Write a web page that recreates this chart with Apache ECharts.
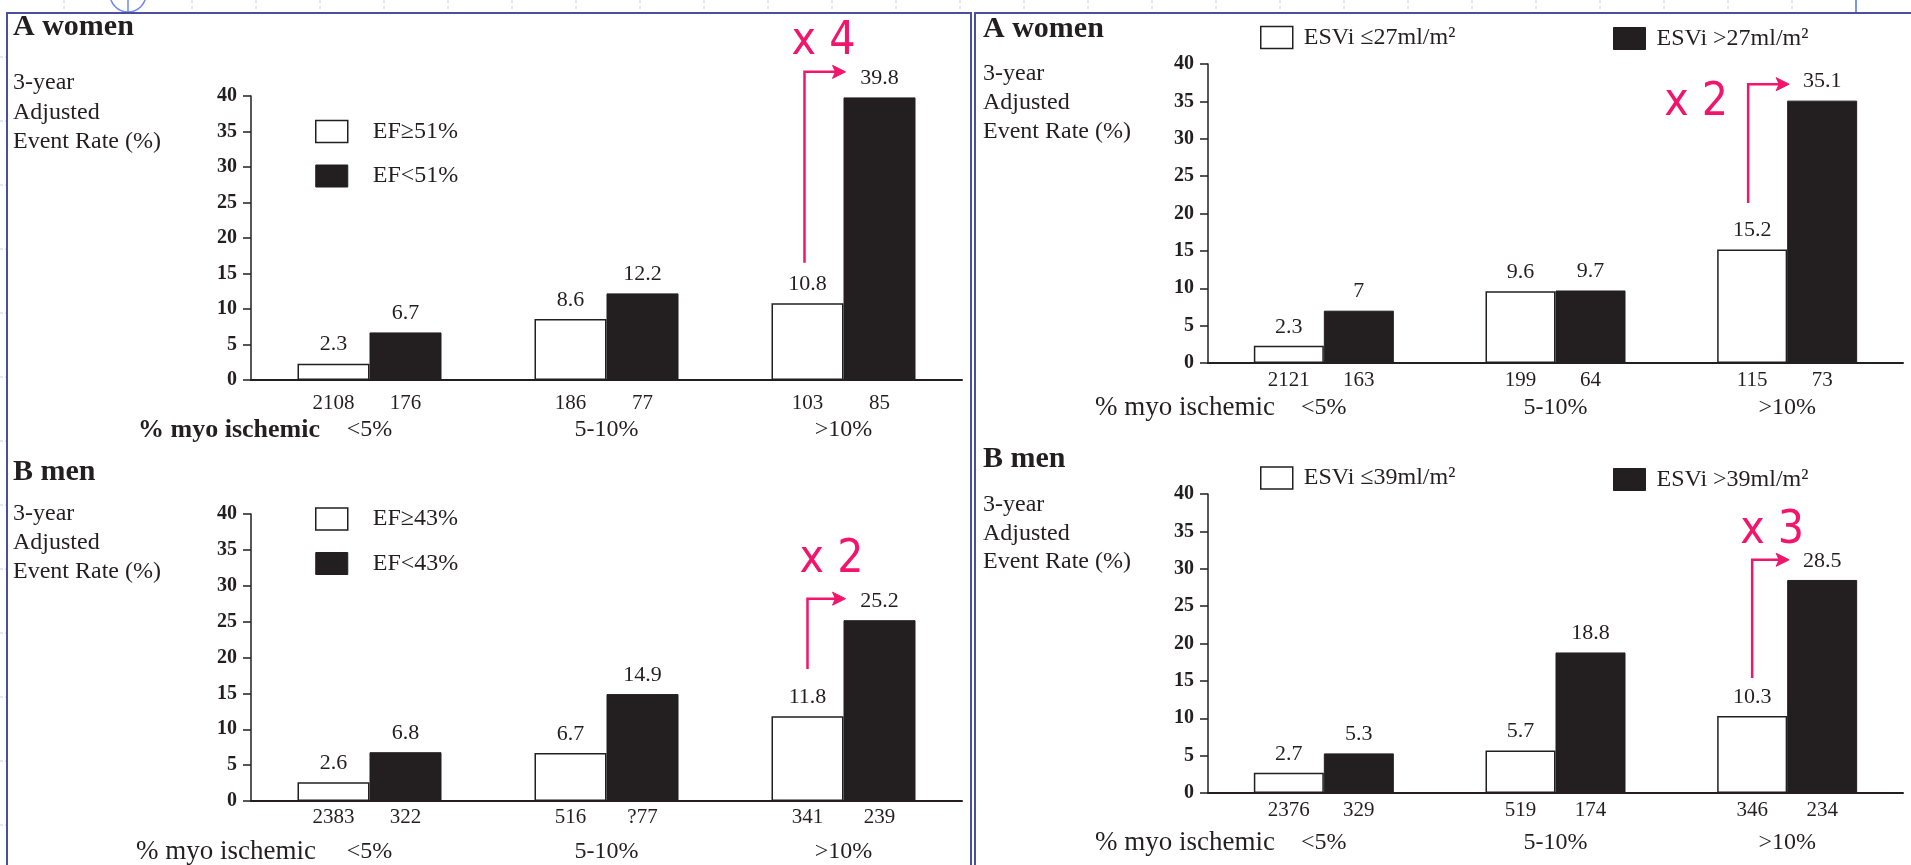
<!DOCTYPE html>
<html><head><meta charset="utf-8">
<script src="https://cdn.jsdelivr.net/npm/echarts@6/dist/echarts.min.js"></script>
<style>html,body{margin:0;padding:0;background:#fff}#c{width:1911px;height:865px}</style>
</head><body><div id="c"></div>
<script>
// ---------------- data ----------------
const categories = ['<5%', '5-10%', '>10%'];
const yTitleLines = ['3-year', 'Adjusted', 'Event Rate (%)'];
const xTitle = '% myo ischemic';

// A women — ejection fraction
const womenEFNames = ['EF≥51%', 'EF<51%'];
const womenEFHigh = [2.3, 8.6, 10.8];
const womenEFLow = [6.7, 12.2, 39.8];
const womenEFCountHigh = ['2108', '186', '103'];
const womenEFCountLow = ['176', '77', '85'];

// B men — ejection fraction
const menEFNames = ['EF≥43%', 'EF<43%'];
const menEFHigh = [2.6, 6.7, 11.8];
const menEFLow = [6.8, 14.9, 25.2];
const menEFCountHigh = ['2383', '516', '341'];
const menEFCountLow = ['322', '?77', '239'];

// A women — ESVi
const womenESViNames = ['ESVi ≤27ml/m²', 'ESVi >27ml/m²'];
const womenESViLow = [2.3, 9.6, 15.2];
const womenESViHigh = [7, 9.7, 35.1];
const womenESViCountLow = ['2121', '199', '115'];
const womenESViCountHigh = ['163', '64', '73'];

// B men — ESVi
const menESViNames = ['ESVi ≤39ml/m²', 'ESVi >39ml/m²'];
const menESViLow = [2.7, 5.7, 10.3];
const menESViHigh = [5.3, 18.8, 28.5];
const menESViCountLow = ['2376', '519', '346'];
const menESViCountHigh = ['329', '174', '234'];

const yMin = 0, yMax = 40, yInterval = 5;
const ratioTexts = ['x 4', 'x 2', 'x 2', 'x 3'];

// ---------------- layout / style ----------------
const FONT = '"Liberation Serif", "Times New Roman", serif';
const INK = '#231f20';
const PINK = '#f2156b';
const FRAME = '#4a4fa0';

const panels = [
  { title: 'A women', names: womenEFNames, white: womenEFHigh, black: womenEFLow, nW: womenEFCountHigh, nB: womenEFCountLow,
    grid: { left: 251, top: 96, width: 711, height: 284 }, barWidth: 72,
    titlePos: [13, 27], yTitle: [13, 83, 29.5], xTitlePos: [138, 430], xTitleBold: true,
    labelMargin: 11, catLH: 30,
    legends: [{ left: 315, top: 119.5, orient: 'vertical', idx: [0, 1], pad: 20 }],
    arrow: { from: 16.5, to: 43.4, dx: -3, tdx: 19, tdy: -29.5 } },
  { title: 'A women', names: womenESViNames, white: womenESViLow, black: womenESViHigh, nW: womenESViCountLow, nB: womenESViCountHigh,
    grid: { left: 1208, top: 64, width: 695, height: 299 }, barWidth: 70,
    titlePos: [983, 29], yTitle: [983, 73.5, 29], xTitlePos: [1095, 408], xTitleBold: false,
    labelMargin: 5, catLH: 32,
    legends: [{ left: 1260, top: 25.5, orient: 'horizontal', idx: [0], pad: 6 },
              { left: 1613, top: 26.5, orient: 'horizontal', idx: [1], pad: 6 }],
    arrow: { from: 21.4, to: 37.3, dx: -4, tdx: -52, tdy: 18.5 } },
  { title: 'B men', names: menEFNames, white: menEFHigh, black: menEFLow, nW: menEFCountHigh, nB: menEFCountLow,
    grid: { left: 251, top: 514, width: 711, height: 287 }, barWidth: 72,
    titlePos: [13, 472.5], yTitle: [13, 513.5, 29.25], xTitlePos: [136, 852], xTitleBold: false,
    labelMargin: 4, catLH: 46,
    legends: [{ left: 315, top: 507, orient: 'vertical', idx: [0, 1], pad: 20 }],
    arrow: { from: 18.4, to: 28.2, dx: 0, tdx: 24, tdy: -38.5 } },
  { title: 'B men', names: menESViNames, white: menESViLow, black: menESViHigh, nW: menESViCountLow, nB: menESViCountHigh,
    grid: { left: 1208, top: 494, width: 695, height: 299 }, barWidth: 70,
    titlePos: [983, 459], yTitle: [983, 505, 28.25], xTitlePos: [1095, 843], xTitleBold: false,
    labelMargin: 5, catLH: 42,
    legends: [{ left: 1260, top: 466, orient: 'horizontal', idx: [0], pad: 6 },
              { left: 1613, top: 467.5, orient: 'horizontal', idx: [1], pad: 6 }],
    arrow: { from: 15.4, to: 31.2, dx: 0, tdx: 20, tdy: -28.5 } }
];

const whiteStyle = { color: '#ffffff', borderColor: INK, borderWidth: 1.5 };
const blackStyle = { color: INK, borderColor: INK, borderWidth: 1 };

const chart = echarts.init(document.getElementById('c'), null, { renderer: 'canvas', width: 1911, height: 865 });

const grids = [], xAxes = [], yAxes = [], series = [], legends = [];
panels.forEach((p, i) => {
  grids.push(Object.assign({ containLabel: false }, p.grid));
  xAxes.push({
    type: 'category', gridIndex: i, data: categories,
    axisTick: { show: false },
    axisLine: { lineStyle: { color: INK, width: 2 } },
    axisLabel: {
      interval: 0, margin: p.labelMargin, color: INK, fontFamily: FONT,
      formatter: (v, idx) => '{n|' + p.nW[idx] + '}{n|' + p.nB[idx] + '}\n{c|' + v + '}',
      rich: {
        n: { width: p.barWidth, align: 'center', fontSize: 21, lineHeight: 24, fontFamily: FONT, color: INK },
        c: { fontSize: 24, lineHeight: p.catLH, fontFamily: FONT, color: INK }
      }
    }
  });
  yAxes.push({
    type: 'value', gridIndex: i, min: yMin, max: yMax, interval: yInterval,
    splitLine: { show: false },
    axisLine: { show: true, lineStyle: { color: INK, width: 1.5 } },
    axisTick: { show: true, length: 8, lineStyle: { color: INK, width: 1.5 } },
    axisLabel: { margin: 14, fontFamily: FONT, fontWeight: 'bold', fontSize: 20, color: INK }
  });
  const lbl = { show: true, position: 'top', distance: 8, fontFamily: FONT, fontSize: 22, color: INK };
  series.push({ type: 'bar', name: p.names[0], xAxisIndex: i, yAxisIndex: i, data: p.white,
    barWidth: p.barWidth, barGap: '0%', itemStyle: whiteStyle, label: lbl, emphasis: { disabled: true } });
  series.push({ type: 'bar', name: p.names[1], xAxisIndex: i, yAxisIndex: i, data: p.black,
    barWidth: p.barWidth, barGap: '0%', itemStyle: blackStyle, label: lbl, emphasis: { disabled: true } });
  p.legends.forEach(l => {
    legends.push({
      orient: l.orient, left: l.left, top: l.top, padding: 0,
      itemWidth: 32, itemHeight: 22, itemGap: 20.5, selectedMode: false, icon: 'rect',
      data: l.idx.map(k => ({ name: p.names[k], itemStyle: k === 0 ? whiteStyle : blackStyle })),
      textStyle: { fontFamily: FONT, fontSize: 24, lineHeight: 22, color: INK, padding: [0, 0, 0, l.pad] }
    });
  });
});

chart.setOption({
  animation: false,
  backgroundColor: '#ffffff',
  grid: grids, xAxis: xAxes, yAxis: yAxes, series: series, legend: legends
});

// ---------------- graphics (frames, texts, annotations) ----------------
const g = [];
function txt(x, y, text, size, bold, fill, family) {
  return { type: 'text', x: x, y: y, silent: true, z: 10,
    style: { text: text, fontFamily: family || FONT, fontSize: size, fontWeight: bold ? 'bold' : 'normal',
      fill: fill || INK, align: 'left', verticalAlign: 'middle' } };
}
// slide decoration
for (let k = 1; k <= 29; k++) {
  const x = 64 * k;
  if (k === 2) continue;
  g.push({ type: 'line', silent: true, shape: { x1: x, y1: 0, x2: x, y2: 12 },
    style: { stroke: k === 29 ? '#7d93f0' : '#c3d0f3', lineWidth: k === 29 ? 2 : 1, lineDash: k === 29 ? null : [3, 3] } });
}
for (let k = 0; k <= 12; k++) {
  const y = 57 + 64 * k;
  g.push({ type: 'line', silent: true, shape: { x1: 0, y1: y, x2: 6, y2: y },
    style: { stroke: '#c3d0f3', lineWidth: 1, lineDash: [3, 2] } });
}
g.push({ type: 'circle', silent: true, shape: { cx: 128, cy: -6, r: 18 }, style: { fill: 'none', stroke: '#6f86ee', lineWidth: 1.5 } });
g.push({ type: 'line', silent: true, shape: { x1: 128, y1: -6, x2: 128, y2: 12 }, style: { stroke: '#6f86ee', lineWidth: 1.5 } });
g.push({ type: 'polyline', silent: true, shape: { points: [[7, 865], [7, 13], [971, 13], [971, 865]] },
  style: { fill: 'none', stroke: FRAME, lineWidth: 2 } });
g.push({ type: 'polyline', silent: true, shape: { points: [[975, 865], [975, 13], [1911, 13]] },
  style: { fill: 'none', stroke: FRAME, lineWidth: 2 } });

panels.forEach((p, i) => {
  g.push(txt(p.titlePos[0], p.titlePos[1], p.title, 30, true));
  yTitleLines.forEach((t, k) => g.push(txt(p.yTitle[0], p.yTitle[1] + k * p.yTitle[2], t, 24, false)));
  g.push(txt(p.xTitlePos[0], p.xTitlePos[1], xTitle, p.xTitleBold ? 26 : 27, p.xTitleBold));
  // ratio arrow from the white bar of the last category up and over to the black bar's label
  const last = categories.length - 1;
  const cx = chart.convertToPixel({ xAxisIndex: i }, categories[last]);
  const vx = cx - p.barWidth / 2 + p.arrow.dx;
  const yb = chart.convertToPixel({ yAxisIndex: i }, p.arrow.from);
  const yt = chart.convertToPixel({ yAxisIndex: i }, p.arrow.to);
  const tip = cx + 2;
  g.push({ type: 'polyline', silent: true, z: 10, shape: { points: [[vx, yb], [vx, yt], [tip - 9, yt]] },
    style: { fill: 'none', stroke: PINK, lineWidth: 2.5 } });
  g.push({ type: 'polygon', silent: true, z: 10, shape: { points: [[tip, yt], [tip - 13, yt - 6.5], [tip - 10, yt], [tip - 13, yt + 6.5]] },
    style: { fill: PINK, stroke: PINK, lineWidth: 1 } });
  const t = txt(vx + p.arrow.tdx, yt + p.arrow.tdy, ratioTexts[i], 46, false, PINK, '"DejaVu Sans Condensed", "DejaVu Sans", sans-serif');
  t.style.align = 'center';
  g.push(t);
});

chart.setOption({ graphic: g });
</script>
</body></html>
